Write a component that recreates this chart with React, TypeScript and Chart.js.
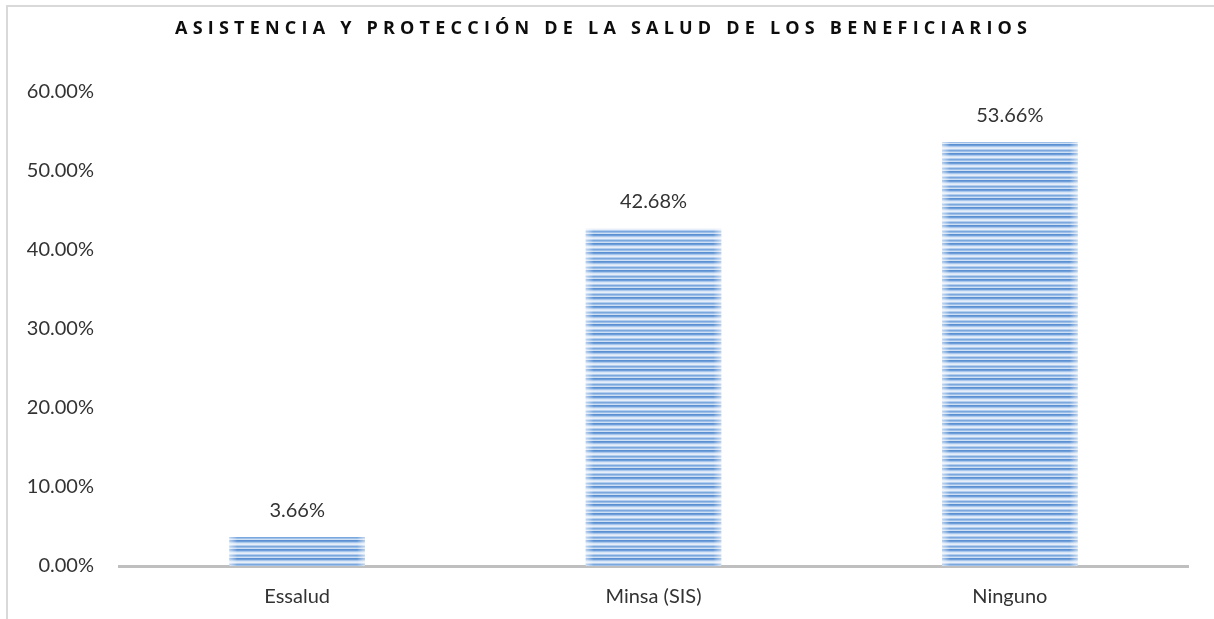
import React, { useEffect, useRef } from "react";
import { Chart, registerables } from "chart.js";

Chart.register(...registerables);

const titleText = "ASISTENCIA Y PROTECCIÓN DE LA SALUD DE LOS BENEFICIARIOS";
const categories = ["Essalud", "Minsa (SIS)", "Ninguno"];
const values = [3.66, 42.68, 53.66];
const yMax = 60;
const yStep = 10;

const FONT = "Lato, 'Open Sans', sans-serif";
const TITLE_FONT = "'Open Sans', Lato, sans-serif";
const TEXT = "#333333";
const FS = 20;

function makePattern(): CanvasPattern | string {
  const c = document.createElement("canvas");
  c.width = 4;
  c.height = 9;
  const x = c.getContext("2d");
  if (!x) return "#7ba7dc";
  const rows = ["#5a90d2", "#6f9fdb", "#a9c7ec", "#d7e5f6", "#e6eff9", "#b3cdee", "#79a7de", "#9ebfe8", "#cfe0f4"];
  rows.forEach((col, i) => {
    x.fillStyle = col;
    x.fillRect(0, i, 4, 1);
  });
  return x.createPattern(c, "repeat") || "#7ba7dc";
}

const framePlugin = {
  id: "frame",
  beforeDraw(chart: any) {
    const ctx = chart.ctx;
    ctx.save();
    ctx.fillStyle = "#ffffff";
    ctx.fillRect(0, 0, chart.width, chart.height);
    ctx.strokeStyle = "#d9d9d9";
    ctx.lineWidth = 2;
    ctx.strokeRect(7, 6, chart.width + 10, chart.height + 10);
    ctx.restore();
  },
  afterDraw(chart: any) {
    const ctx = chart.ctx;
    ctx.save();
    ctx.font = `bold 18px ${TITLE_FONT}`;
    const left = 175;
    const right = 1027;
    (ctx as any).letterSpacing = "0px";
    const w = ctx.measureText(titleText).width;
    const sp = (right - left - w) / (titleText.length - 1);
    (ctx as any).letterSpacing = sp + "px";
    ctx.fillStyle = "#0d0d0d";
    ctx.textAlign = "left";
    ctx.textBaseline = "middle";
    ctx.fillText(titleText, left, 29);
    ctx.restore();
  },
};

const edgePlugin = {
  id: "edges",
  afterDatasetsDraw(chart: any) {
    const ctx = chart.ctx;
    const meta = chart.getDatasetMeta(0);
    ctx.save();
    meta.data.forEach((bar: any) => {
      const { x, y, base, width } = bar.getProps(["x", "y", "base", "width"], true);
      const l = x - width / 2;
      const r = x + width / 2;
      const w = 8;
      const g1 = ctx.createLinearGradient(l, 0, l + w, 0);
      g1.addColorStop(0, "rgba(255,255,255,0.55)");
      g1.addColorStop(1, "rgba(255,255,255,0)");
      ctx.fillStyle = g1;
      ctx.fillRect(l, y, w, base - y);
      const g2 = ctx.createLinearGradient(r - w, 0, r, 0);
      g2.addColorStop(0, "rgba(255,255,255,0)");
      g2.addColorStop(1, "rgba(255,255,255,0.55)");
      ctx.fillStyle = g2;
      ctx.fillRect(r - w, y, w, base - y);
    });
    ctx.font = `${FS}px ${FONT}`;
    ctx.fillStyle = TEXT;
    ctx.textAlign = "center";
    ctx.textBaseline = "middle";
    meta.data.forEach((bar: any, i: number) => {
      const { x, y } = bar.getProps(["x", "y"], true);
      ctx.fillText(values[i].toFixed(2) + "%", x, y - 27);
    });
    ctx.restore();
  },
};

export default function App() {
  const ref = useRef<HTMLCanvasElement>(null);
  useEffect(() => {
    if (!ref.current) return;
    const chart = new Chart(ref.current, {
      type: "bar",
      data: {
        labels: categories,
        datasets: [
          {
            data: values,
            backgroundColor: makePattern() as any,
            borderWidth: 0,
            barPercentage: 0.38,
            categoryPercentage: 1,
          },
        ],
      },
      options: {
        animation: false,
        responsive: false,
        maintainAspectRatio: false,
        layout: { padding: { top: 92, right: 26, left: 0, bottom: 0 } },
        plugins: {
          legend: { display: false },
          title: { display: false },
          tooltip: { enabled: false },
        },
        scales: {
          x: {
            grid: { display: false },
            border: { display: true, color: "#bfbfbf", width: 3 },
            ticks: { color: TEXT, font: { family: FONT, size: FS }, padding: 11 },
            afterFit: (s: any) => {
              s.height = 53;
            },
          },
          y: {
            min: 0,
            max: yMax,
            grid: { display: false },
            border: { display: false },
            ticks: {
              stepSize: yStep,
              color: TEXT,
              font: { family: FONT, size: FS },
              padding: 17,
              callback: (v: any) => Number(v).toFixed(2) + "%",
            },
            afterFit: (s: any) => {
              s.width = 119;
            },
          },
        },
      },
      plugins: [framePlugin, edgePlugin],
    });
    return () => chart.destroy();
  }, []);
  return (
    <div style={{ position: "absolute", left: 0, top: 0, width: 1214, height: 619 }}>
      <canvas ref={ref} width={1214} height={619} style={{ display: "block" }} />
    </div>
  );
}
